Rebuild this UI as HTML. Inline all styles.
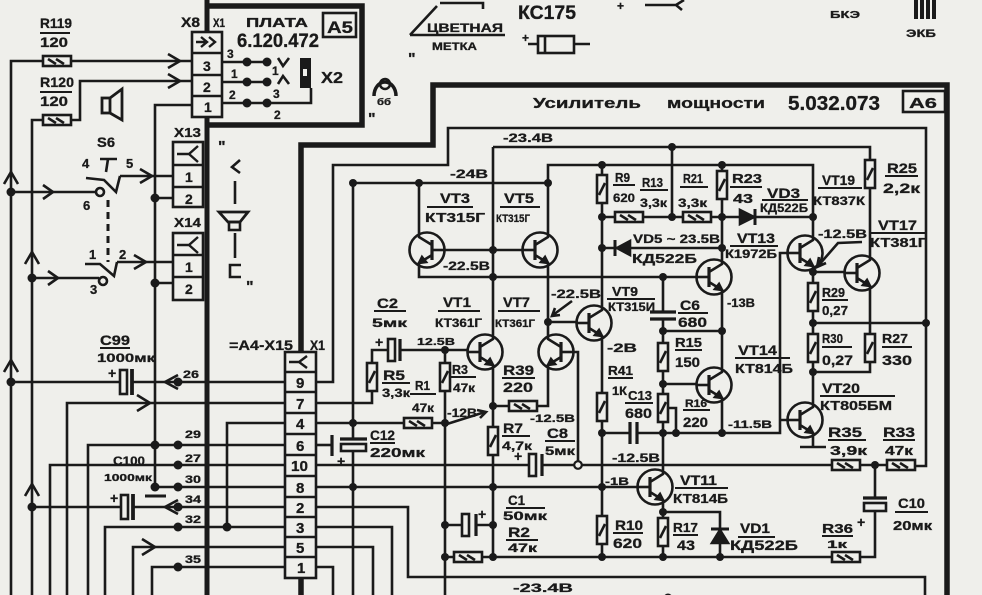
<!DOCTYPE html>
<html><head><meta charset="utf-8"><style>
html,body{margin:0;padding:0;background:#efefeb;}
svg{display:block}
.t text{font-family:"Liberation Sans","DejaVu Sans",sans-serif;font-weight:bold;fill:#1a1a1a;stroke:#1a1a1a;stroke-width:0.3px;}
</style></head><body>
<svg width="982" height="595" viewBox="0 0 982 595" xmlns="http://www.w3.org/2000/svg">
<rect width="982" height="595" fill="#efefeb"/>
<defs>
<g id="tr" fill="none">
 <circle r="17.5"/>
 <line x1="-5" y1="-10" x2="-5" y2="10" stroke-width="3.2"/>
 <line x1="-17.5" y1="0" x2="-5" y2="0"/>
 <polyline points="-5,-5 8,-13 8,-18"/>
 <polyline points="-5,5 8,13 8,18"/>
 <path d="M8,13 L1,12 L5,7 Z" fill="#1a1a1a"/>
</g>
<g id="rv"><rect x="-5" y="-14" width="10" height="28" fill="#efefeb"/><line x1="-3" y1="6" x2="3" y2="-6"/></g>
<g id="rh"><rect x="-14" y="-5" width="28" height="10" fill="#efefeb"/><line x1="-9" y1="-2" x2="-1" y2="3"/><line x1="-1" y1="-2" x2="7" y2="3"/></g>
</defs>

<!-- thick borders -->
<g stroke="#1a1a1a" fill="none" stroke-width="5.5">
 <line x1="207" y1="0" x2="207" y2="595" stroke-width="5"/>
 <path d="M207,6 H362 V125 H207"/>
 <path d="M301,595 V145 H433 V85 H947 V595"/>
</g>

<!-- wires -->
<g stroke="#1a1a1a" stroke-width="2.6" fill="none">
 <path d="M11,595 V61 H43 M71,61 H192"/>
 <path d="M32,595 V120 H43 M71,120 H80 V81 H192"/>
 <path d="M192,105 H155 V487"/>
 <path d="M11,192 H96 M32,278 H99"/>
 <path d="M120,176 H173 M155,198 H173 M117,262 H173 M155,283 H173"/>
 <path d="M222,62 H267 M222,82 H267 M222,103 H267 M311,88 V103 H267"/>
 <path d="M11,382 H120 M132,382 H285"/>
 <path d="M67,595 V403 H285"/>
 <path d="M227,527 V423 H285"/>
 <path d="M88,595 V445 H285"/>
 <path d="M50,595 V465 H285"/>
 <path d="M155,487 H285"/>
 <path d="M32,507 H121 M133,507 H285"/>
 <path d="M105,595 V527 H285"/>
 <path d="M133,595 V547 H285"/>
 <path d="M152,595 V567 H285"/>
 <path d="M316,382 H333 V165 H448 V128 H926 V466 H914"/>
 <path d="M316,403 H372 V391 M372,363 V350 H388 M400,350 H467"/>
 <path d="M316,423 H404 M432,423 H445"/>
 <path d="M316,445 H332"/>
 <path d="M316,465 H529 M542,465 H832 M860,465 H888"/>
 <path d="M316,487 H637"/>
 <path d="M316,507 H408 V577 H925 V595"/>
 <path d="M316,527 H392 V595"/>
 <path d="M316,547 H373 V595"/>
 <path d="M316,567 H333 V595"/>
 <path d="M353,183 V439 M353,451 V595 M353,183 H548"/>
 <path d="M445,350 V595"/>
 <path d="M493,147 V334 M493,370 V557 M493,147 H870 V255"/>
 <path d="M419,183 V232 M419,268 V277 H696 M444,250 H522"/>
 <path d="M548,232 V165 H813 V235 M548,268 V334 M548,322 H576 M548,370 V406 H537 M493,406 H510 M573,352 H578 V465"/>
 <path d="M602,165 V305 M602,341 V557 M602,217 H740 M755,217 H813 M602,248 H722 M722,165 V259 M722,295 V367 M722,403 V433"/>
 <path d="M602,433 H630 M637,433 H780 V253 H787 M780,420 H787"/>
 <path d="M663,277 V312 M663,319 V469 M663,505 V557 M663,331 H722 M663,384 H696 M668,408 H676 V433"/>
 <path d="M663,512 H720 V557 M443,557 H832 M860,557 H875 V512 M875,465 V498 M672,147 V217"/>
 <path d="M813,271 V402 M813,272 H844 M870,291 V372 H813 M813,323 H926 M813,438 V447 M800,447 H826"/>
 <path d="M445,525 H462 M476,525 H493"/>
</g>

<!-- components -->
<g stroke="#1a1a1a" stroke-width="2.6" fill="none">
 <use href="#tr" transform="translate(427,250) scale(-1,1)"/>
 <use href="#tr" transform="translate(540,250)"/>
 <use href="#tr" transform="translate(485,352)"/>
 <use href="#tr" transform="translate(556,352) scale(-1,1)"/>
 <use href="#tr" transform="translate(594,323)"/>
 <use href="#tr" transform="translate(714,277)"/>
 <use href="#tr" transform="translate(714,385)"/>
 <use href="#tr" transform="translate(655,487)"/>
 <use href="#tr" transform="translate(805,253)"/>
 <use href="#tr" transform="translate(862,273)"/>
 <use href="#tr" transform="translate(805,420)"/>

 <use href="#rh" x="57" y="61"/>
 <use href="#rh" x="57" y="120"/>
 <use href="#rh" x="418" y="423"/>
 <use href="#rh" x="523" y="406"/>
 <use href="#rh" x="468" y="557"/>
 <use href="#rh" x="629" y="217"/>
 <use href="#rh" x="697" y="217"/>
 <use href="#rh" x="846" y="465"/>
 <use href="#rh" x="901" y="465"/>
 <use href="#rh" x="846" y="557"/>

 <use href="#rv" x="372" y="377"/>
 <use href="#rv" x="445" y="377"/>
 <use href="#rv" x="493" y="441"/>
 <use href="#rv" x="602" y="189"/>
 <use href="#rv" x="722" y="185"/>
 <use href="#rv" x="602" y="407"/>
 <use href="#rv" x="602" y="530"/>
 <use href="#rv" x="663" y="357"/>
 <use href="#rv" x="663" y="408"/>
 <use href="#rv" x="663" y="532"/>
 <use href="#rv" x="870" y="174"/>
 <use href="#rv" x="813" y="297"/>
 <use href="#rv" x="813" y="348"/>
 <use href="#rv" x="870" y="348"/>

 <polygon points="740,210 740,224 754,217" fill="#1a1a1a"/>
 <line x1="755" y1="209" x2="755" y2="225" stroke-width="3"/>
 <polygon points="617,248 630,241 630,255" fill="#1a1a1a"/>
 <line x1="615" y1="240" x2="615" y2="256" stroke-width="3"/>
 <polygon points="712,543 728,543 720,530" fill="#1a1a1a"/>
 <line x1="711" y1="529" x2="729" y2="529" stroke-width="3"/>

 <rect x="120" y="370" width="7" height="24" fill="#efefeb"/>
 <line x1="132" y1="369" x2="132" y2="395" stroke-width="3.8"/>
 <rect x="121" y="495" width="7" height="24" fill="#efefeb"/>
 <line x1="133" y1="494" x2="133" y2="520" stroke-width="3.8"/>
 <line x1="145" y1="496" x2="166" y2="496" stroke-width="3"/>
 <rect x="388" y="339" width="7" height="22" fill="#efefeb"/>
 <line x1="400" y1="339" x2="400" y2="361" stroke-width="3.2"/>
 <line x1="332" y1="435" x2="332" y2="456" stroke-width="3.2"/>
 <line x1="340" y1="439" x2="367" y2="439" stroke-width="3.2"/>
 <rect x="341" y="444" width="25" height="7" fill="#efefeb"/>
 <rect x="529" y="454" width="7" height="22" fill="#efefeb"/>
 <line x1="542" y1="454" x2="542" y2="476" stroke-width="3.2"/>
 <rect x="462" y="514" width="7" height="22" fill="#efefeb"/>
 <line x1="476" y1="514" x2="476" y2="536" stroke-width="3.2"/>
 <line x1="650" y1="312" x2="676" y2="312" stroke-width="3.2"/>
 <line x1="650" y1="319" x2="676" y2="319" stroke-width="3.2"/>
 <line x1="630" y1="422" x2="630" y2="444" stroke-width="3.2"/>
 <line x1="637" y1="422" x2="637" y2="444" stroke-width="3.2"/>
 <line x1="863" y1="498" x2="887" y2="498" stroke-width="3.2"/>
 <rect x="864" y="503" width="22" height="8" fill="#efefeb"/>

 <polyline points="168,54 180,61 168,68"/>
 <polyline points="168,74 180,81 168,88"/>
 <polyline points="4,184 11,172 18,184"/>
 <polyline points="4,372 11,360 18,372"/>
 <polyline points="25,264 32,252 39,264"/>
 <polyline points="25,496 32,484 39,496"/>
 <polyline points="43,185 53,192 43,199"/>
 <polyline points="48,271 58,278 48,285"/>
 <polyline points="140,169 152,176 140,183"/>
 <polyline points="134,255 146,262 134,269"/>
 <polyline points="137,395 150,403 137,411"/>
 <polyline points="142,539 155,547 142,555"/>
 <polyline points="178,375 165,382 178,389"/>
 <polyline points="178,500 165,507 178,514"/>
 <path d="M447,424 L485,412 M477,410 L486,412 L480,418"/>
 <path d="M572,301 L553,315 M555,308 L552,316 L560,315"/>
 <path d="M862,242 L838,243 L818,266 M819,257 L817,267 L826,263"/>

 <circle cx="100" cy="192" r="4" fill="#efefeb"/>
 <circle cx="103" cy="281" r="4" fill="#efefeb"/>
 <path d="M86,178 L104,180 L116,192 L120,176"/>
 <path d="M100,159 H117 M108,159 L106,172"/>
 <path d="M85,264 H100 L114,276 L117,262"/>
 <line x1="108" y1="200" x2="108" y2="262" stroke-width="3" stroke-dasharray="7,5"/>
 <rect x="102" y="98" width="8" height="15" stroke-width="2.8"/>
 <path d="M110,98 L122,89 V120 L110,113" stroke-width="2.8"/>
 <polyline points="240,160 232,167 240,173"/>
 <line x1="235" y1="181" x2="235" y2="204"/>
 <path d="M219,212 H248 L240,222 H228 Z" stroke-width="2.8"/>
 <rect x="229" y="222" width="11" height="8"/>
 <line x1="235" y1="233" x2="235" y2="258"/>
 <polyline points="241,265 230,265 230,277 241,277"/>
 <path d="M374,96 A11,14 0 0 1 396,96" stroke-width="3.5"/>
 <circle cx="385" cy="84" r="5" stroke-width="2.5"/>
 <path d="M410,35 L437,6 M440,3 H483 V9 M410,35 H505"/>
 <rect x="538" y="36" width="36" height="17"/>
 <line x1="545" y1="36" x2="545" y2="53"/>
 <path d="M528,44 H538 M574,44 H590"/>
 <path d="M645,5 H676 L684,0 M676,5 L682,10"/>
 <polyline points="278,58 283,66 289,58"/>
 <polyline points="278,84 283,76 289,84"/>
</g>

<g fill="#1a1a1a">
 <rect x="914" y="0" width="4" height="19"/>
 <rect x="920" y="0" width="4" height="19"/>
 <rect x="926" y="0" width="4" height="19"/>
 <rect x="932" y="0" width="4" height="19"/>
 <rect x="300" y="58" width="11" height="30"/>
</g>
<rect x="303" y="69" width="4" height="7" fill="#efefeb"/>

<g stroke="#1a1a1a" stroke-width="2.6" fill="#efefeb">
 <rect x="192" y="32" width="30" height="85"/>
 <path d="M192,53 H222 M192,75 H222 M192,96 H222" fill="none"/>
 <rect x="173" y="142" width="30" height="65"/>
 <path d="M173,165 H203 M173,187 H203" fill="none"/>
 <rect x="173" y="233" width="30" height="67"/>
 <path d="M173,255 H203 M173,277 H203" fill="none"/>
 <rect x="285" y="352" width="31" height="226"/>
 <path d="M285,372 H316 M285,392 H316 M285,413 H316 M285,434 H316 M285,455 H316 M285,476 H316 M285,497 H316 M285,517 H316 M285,537 H316 M285,557 H316" fill="none"/>
 <rect x="323" y="13" width="33" height="24" fill="none"/>
 <rect x="903" y="91" width="42" height="21" fill="none"/>
</g>
<g stroke="#1a1a1a" stroke-width="2.4" fill="none">
 <path d="M196,42 H205 M201,37 L207,42 L201,47 M209,37 L215,42 L209,47"/>
 <path d="M177,154 H189 M198,146 L189,154 L198,162"/>
 <path d="M177,245 H189 M198,237 L189,245 L198,253"/>
 <path d="M289,362 H299 M307,356 L299,362 L307,368"/>
</g>

<g fill="#1a1a1a">
 <circle cx="11" cy="192" r="4.5"/><circle cx="32" cy="278" r="4.5"/>
 <circle cx="155" cy="198" r="4.5"/><circle cx="155" cy="283" r="4.5"/>
 <circle cx="247" cy="62" r="4.5"/><circle cx="267" cy="62" r="4.5"/>
 <circle cx="247" cy="82" r="4.5"/><circle cx="267" cy="82" r="4.5"/>
 <circle cx="247" cy="103" r="4.5"/><circle cx="267" cy="103" r="4.5"/>
 <circle cx="11" cy="382" r="4.5"/><circle cx="178" cy="382" r="4.5"/>
 <circle cx="155" cy="445" r="4.5"/><circle cx="178" cy="445" r="4.5"/>
 <circle cx="178" cy="465" r="4.5"/><circle cx="155" cy="487" r="4.5"/>
 <circle cx="178" cy="487" r="4.5"/><circle cx="32" cy="507" r="4.5"/>
 <circle cx="178" cy="507" r="4.5"/><circle cx="178" cy="527" r="4.5"/>
 <circle cx="227" cy="527" r="4.5"/><circle cx="178" cy="567" r="4.5"/>
 <circle cx="353" cy="183" r="4"/><circle cx="419" cy="183" r="4"/>
 <circle cx="548" cy="183" r="4"/><circle cx="493" cy="250" r="4"/>
 <circle cx="493" cy="277" r="4"/><circle cx="353" cy="423" r="4"/>
 <circle cx="353" cy="487" r="4"/><circle cx="445" cy="350" r="4"/>
 <circle cx="445" cy="423" r="4"/><circle cx="445" cy="525" r="4"/>
 <circle cx="445" cy="557" r="4"/><circle cx="493" cy="406" r="4"/>
 <circle cx="493" cy="487" r="4"/><circle cx="493" cy="525" r="4"/>
 <circle cx="493" cy="557" r="4"/><circle cx="548" cy="322" r="4"/>
 <circle cx="602" cy="165" r="4"/><circle cx="602" cy="217" r="4"/>
 <circle cx="672" cy="147" r="4"/><circle cx="672" cy="217" r="4"/>
 <circle cx="722" cy="165" r="4"/><circle cx="722" cy="217" r="4"/>
 <circle cx="813" cy="217" r="4"/><circle cx="602" cy="248" r="4"/>
 <circle cx="722" cy="248" r="4"/><circle cx="663" cy="277" r="4"/>
 <circle cx="663" cy="331" r="4"/><circle cx="722" cy="331" r="4"/>
 <circle cx="663" cy="384" r="4"/><circle cx="663" cy="433" r="4"/>
 <circle cx="676" cy="433" r="4"/><circle cx="602" cy="433" r="4"/>
 <circle cx="722" cy="433" r="4"/><circle cx="602" cy="487" r="4"/>
 <circle cx="663" cy="512" r="4"/><circle cx="602" cy="557" r="4"/>
 <circle cx="663" cy="557" r="4"/><circle cx="720" cy="557" r="4"/>
 <circle cx="813" cy="272" r="4"/><circle cx="813" cy="323" r="4"/>
 <circle cx="926" cy="323" r="4"/><circle cx="813" cy="372" r="4"/>
 <circle cx="875" cy="465" r="4"/><circle cx="668" cy="598" r="4.5"/>
</g>
<circle cx="578" cy="465" r="3.8" fill="#efefeb" stroke="#1a1a1a" stroke-width="2.2"/>

<g stroke="#1a1a1a" stroke-width="2">
 <path d="M40,33 H70 M40,92 H72 M100,348 H130"/>
 <path d="M427,207 H473 M500,207 H540 M438,311 H480 M498,311 H540 M374,311 H406"/>
 <path d="M382,383 H410 M410,394 H436 M451,377 H476 M502,378 H535 M502,436 H530 M545,441 H575"/>
 <path d="M506,508 H545 M506,540 H538 M607,299 H655 M613,185 H635 M640,190 H668 M680,187 H708 M730,187 H762 M762,200 H808"/>
 <path d="M730,246 H778 M678,313 H708 M608,378 H633 M625,403 H653 M675,350 H702 M683,410 H710"/>
 <path d="M735,358 H790 M675,488 H728 M613,533 H643 M673,535 H698 M738,537 H775"/>
 <path d="M828,440 H866 M883,440 H915 M895,512 H928 M822,536 H853 M822,347 H852 M882,347 H912"/>
 <path d="M820,396 H895 M822,300 H848 M818,188 H862 M885,176 H918 M870,233 H925 M370,443 H395"/>
</g>

<g class="t">
 <text x="40" y="28" font-size="14" textLength="32" lengthAdjust="spacingAndGlyphs">R119</text>
 <text x="40" y="47" font-size="14" textLength="28" lengthAdjust="spacingAndGlyphs">120</text>
 <text x="40" y="87" font-size="14" textLength="34" lengthAdjust="spacingAndGlyphs">R120</text>
 <text x="40" y="106" font-size="14" textLength="28" lengthAdjust="spacingAndGlyphs">120</text>
 <text x="97" y="147" font-size="14" textLength="18" lengthAdjust="spacingAndGlyphs">S6</text>
 <text x="82" y="168" font-size="13">4</text>
 <text x="126" y="168" font-size="13">5</text>
 <text x="83" y="210" font-size="13">6</text>
 <text x="89" y="259" font-size="13">1</text>
 <text x="119" y="259" font-size="13">2</text>
 <text x="90" y="294" font-size="13">3</text>
 <text x="174" y="137" font-size="13" textLength="27" lengthAdjust="spacingAndGlyphs">X13</text>
 <text x="174" y="227" font-size="13" textLength="27" lengthAdjust="spacingAndGlyphs">X14</text>
 <text x="185" y="182" font-size="14">1</text>
 <text x="185" y="204" font-size="14">2</text>
 <text x="185" y="272" font-size="14">1</text>
 <text x="185" y="294" font-size="14">2</text>
 <text x="181" y="27" font-size="14" textLength="19" lengthAdjust="spacingAndGlyphs">X8</text>
 <text x="213" y="27" font-size="12" textLength="12" lengthAdjust="spacingAndGlyphs">X1</text>
 <text x="246" y="27" font-size="13" textLength="62" lengthAdjust="spacingAndGlyphs">ПЛАТА</text>
 <text x="237" y="47" font-size="19" textLength="82" lengthAdjust="spacingAndGlyphs">6.120.472</text>
 <text x="327" y="33" font-size="17" textLength="26" lengthAdjust="spacingAndGlyphs">A5</text>
 <text x="203" y="71" font-size="14">3</text>
 <text x="203" y="92" font-size="14">2</text>
 <text x="204" y="112" font-size="14">1</text>
 <text x="227" y="58" font-size="12">3</text>
 <text x="231" y="78" font-size="12">1</text>
 <text x="229" y="99" font-size="12">2</text>
 <text x="272" y="75" font-size="12">1</text>
 <text x="273" y="98" font-size="12">3</text>
 <text x="274" y="119" font-size="12">2</text>
 <text x="321" y="83" font-size="16" textLength="22" lengthAdjust="spacingAndGlyphs">X2</text>
 <text x="218" y="152" font-size="16">"</text>
 <text x="246" y="292" font-size="16">"</text>
 <text x="408" y="64" font-size="16">"</text>
 <text x="368" y="124" font-size="16">"</text>
 <text x="377" y="105" font-size="9" textLength="14" lengthAdjust="spacingAndGlyphs">бб</text>

 <text x="427" y="32" font-size="12" textLength="76" lengthAdjust="spacingAndGlyphs">ЦВЕТНАЯ</text>
 <text x="432" y="50" font-size="11" textLength="45" lengthAdjust="spacingAndGlyphs">МЕТКА</text>
 <text x="518" y="19" font-size="19" font-weight="normal" textLength="58" lengthAdjust="spacingAndGlyphs">КС175</text>
 <text x="522" y="42" font-size="12">+</text>
 <text x="617" y="10" font-size="12">+</text>
 <text x="830" y="18" font-size="10" textLength="30" lengthAdjust="spacingAndGlyphs">БКЭ</text>
 <text x="906" y="37" font-size="11" textLength="30" lengthAdjust="spacingAndGlyphs">ЭКБ</text>
 <text x="533" y="108" font-size="15" textLength="108" lengthAdjust="spacingAndGlyphs">Усилитель</text>
 <text x="667" y="108" font-size="15" textLength="98" lengthAdjust="spacingAndGlyphs">мощности</text>
 <text x="788" y="110" font-size="20" textLength="92" lengthAdjust="spacingAndGlyphs">5.032.073</text>
 <text x="909" y="108" font-size="15" textLength="28" lengthAdjust="spacingAndGlyphs">A6</text>

 <text x="100" y="345" font-size="14" textLength="30" lengthAdjust="spacingAndGlyphs">C99</text>
 <text x="97" y="362" font-size="12" textLength="58" lengthAdjust="spacingAndGlyphs">1000мк</text>
 <text x="183" y="378" font-size="11" textLength="16" lengthAdjust="spacingAndGlyphs">26</text>
 <text x="185" y="438" font-size="11" textLength="16" lengthAdjust="spacingAndGlyphs">29</text>
 <text x="185" y="462" font-size="11" textLength="16" lengthAdjust="spacingAndGlyphs">27</text>
 <text x="185" y="483" font-size="11" textLength="16" lengthAdjust="spacingAndGlyphs">30</text>
 <text x="185" y="503" font-size="11" textLength="16" lengthAdjust="spacingAndGlyphs">34</text>
 <text x="185" y="523" font-size="11" textLength="16" lengthAdjust="spacingAndGlyphs">32</text>
 <text x="185" y="563" font-size="11" textLength="16" lengthAdjust="spacingAndGlyphs">35</text>
 <text x="113" y="465" font-size="12" textLength="32" lengthAdjust="spacingAndGlyphs">C100</text>
 <text x="104" y="481" font-size="10" textLength="48" lengthAdjust="spacingAndGlyphs">1000мк</text>
 <text x="108" y="378" font-size="14">+</text>
 <text x="110" y="503" font-size="14">+</text>
 <text x="229" y="350" font-size="14" textLength="64" lengthAdjust="spacingAndGlyphs">=A4-X15</text>
 <text x="310" y="350" font-size="14" textLength="15" lengthAdjust="spacingAndGlyphs">X1</text>
 <text x="296" y="388" font-size="15">9</text>
 <text x="296" y="409" font-size="15">7</text>
 <text x="296" y="429" font-size="15">4</text>
 <text x="296" y="451" font-size="15">6</text>
 <text x="291" y="471" font-size="15" textLength="17" lengthAdjust="spacingAndGlyphs">10</text>
 <text x="296" y="493" font-size="15">8</text>
 <text x="296" y="513" font-size="15">2</text>
 <text x="296" y="533" font-size="15">3</text>
 <text x="296" y="553" font-size="15">5</text>
 <text x="297" y="573" font-size="15">1</text>

 <text x="503" y="142" font-size="12" textLength="50" lengthAdjust="spacingAndGlyphs">-23.4В</text>
 <text x="450" y="178" font-size="12" textLength="38" lengthAdjust="spacingAndGlyphs">-24В</text>
 <text x="440" y="203" font-size="14" textLength="30" lengthAdjust="spacingAndGlyphs">VT3</text>
 <text x="425" y="222" font-size="13" textLength="60" lengthAdjust="spacingAndGlyphs">КТ315Г</text>
 <text x="504" y="203" font-size="14" textLength="30" lengthAdjust="spacingAndGlyphs">VT5</text>
 <text x="496" y="222" font-size="11" textLength="34" lengthAdjust="spacingAndGlyphs">КТ315Г</text>
 <text x="443" y="270" font-size="12" textLength="47" lengthAdjust="spacingAndGlyphs">-22.5В</text>
 <text x="443" y="307" font-size="14" textLength="28" lengthAdjust="spacingAndGlyphs">VT1</text>
 <text x="435" y="327" font-size="12" textLength="47" lengthAdjust="spacingAndGlyphs">КТ361Г</text>
 <text x="503" y="307" font-size="14" textLength="27" lengthAdjust="spacingAndGlyphs">VT7</text>
 <text x="495" y="327" font-size="11" textLength="40" lengthAdjust="spacingAndGlyphs">КТ361Г</text>
 <text x="377" y="308" font-size="14" textLength="21" lengthAdjust="spacingAndGlyphs">C2</text>
 <text x="372" y="327" font-size="12" textLength="35" lengthAdjust="spacingAndGlyphs">5мк</text>
 <text x="375" y="347" font-size="14">+</text>
 <text x="417" y="345" font-size="10" textLength="38" lengthAdjust="spacingAndGlyphs">12.5В</text>
 <text x="383" y="380" font-size="14" textLength="22" lengthAdjust="spacingAndGlyphs">R5</text>
 <text x="382" y="397" font-size="12" textLength="28" lengthAdjust="spacingAndGlyphs">3,3к</text>
 <text x="415" y="390" font-size="13" textLength="15" lengthAdjust="spacingAndGlyphs">R1</text>
 <text x="412" y="412" font-size="12" textLength="22" lengthAdjust="spacingAndGlyphs">47к</text>
 <text x="452" y="374" font-size="13" textLength="16" lengthAdjust="spacingAndGlyphs">R3</text>
 <text x="453" y="392" font-size="12" textLength="22" lengthAdjust="spacingAndGlyphs">47к</text>
 <text x="447" y="417" font-size="12" textLength="30" lengthAdjust="spacingAndGlyphs">-12В</text>
 <text x="503" y="375" font-size="14" textLength="31" lengthAdjust="spacingAndGlyphs">R39</text>
 <text x="503" y="392" font-size="14" textLength="30" lengthAdjust="spacingAndGlyphs">220</text>
 <text x="503" y="433" font-size="14" textLength="20" lengthAdjust="spacingAndGlyphs">R7</text>
 <text x="502" y="450" font-size="12" textLength="30" lengthAdjust="spacingAndGlyphs">4,7к</text>
 <text x="530" y="422" font-size="11" textLength="45" lengthAdjust="spacingAndGlyphs">-12.5В</text>
 <text x="547" y="438" font-size="14" textLength="21" lengthAdjust="spacingAndGlyphs">C8</text>
 <text x="545" y="455" font-size="12" textLength="30" lengthAdjust="spacingAndGlyphs">5мк</text>
 <text x="514" y="461" font-size="14">+</text>
 <text x="337" y="466" font-size="14">+</text>
 <text x="370" y="440" font-size="14" textLength="25" lengthAdjust="spacingAndGlyphs">C12</text>
 <text x="370" y="457" font-size="13" textLength="55" lengthAdjust="spacingAndGlyphs">220мк</text>
 <text x="508" y="505" font-size="14" textLength="17" lengthAdjust="spacingAndGlyphs">C1</text>
 <text x="503" y="520" font-size="12" textLength="44" lengthAdjust="spacingAndGlyphs">50мк</text>
 <text x="478" y="519" font-size="14">+</text>
 <text x="508" y="537" font-size="14" textLength="22" lengthAdjust="spacingAndGlyphs">R2</text>
 <text x="508" y="552" font-size="12" textLength="29" lengthAdjust="spacingAndGlyphs">47к</text>
 <text x="513" y="592" font-size="12" textLength="60" lengthAdjust="spacingAndGlyphs">-23.4В</text>
 <text x="551" y="298" font-size="12" textLength="50" lengthAdjust="spacingAndGlyphs">-22.5В</text>
 <text x="612" y="296" font-size="13" textLength="26" lengthAdjust="spacingAndGlyphs">VT9</text>
 <text x="608" y="311" font-size="12" textLength="47" lengthAdjust="spacingAndGlyphs">КТ315И</text>
 <text x="615" y="182" font-size="13" textLength="15" lengthAdjust="spacingAndGlyphs">R9</text>
 <text x="613" y="202" font-size="12" textLength="22" lengthAdjust="spacingAndGlyphs">620</text>
 <text x="642" y="187" font-size="13" textLength="21" lengthAdjust="spacingAndGlyphs">R13</text>
 <text x="640" y="207" font-size="12" textLength="27" lengthAdjust="spacingAndGlyphs">3,3к</text>
 <text x="683" y="183" font-size="13" textLength="20" lengthAdjust="spacingAndGlyphs">R21</text>
 <text x="678" y="207" font-size="12" textLength="29" lengthAdjust="spacingAndGlyphs">3,3к</text>
 <text x="732" y="183" font-size="13" textLength="30" lengthAdjust="spacingAndGlyphs">R23</text>
 <text x="733" y="203" font-size="13" textLength="20" lengthAdjust="spacingAndGlyphs">43</text>
 <text x="767" y="198" font-size="14" textLength="33" lengthAdjust="spacingAndGlyphs">VD3</text>
 <text x="760" y="212" font-size="12" textLength="48" lengthAdjust="spacingAndGlyphs">КД522Б</text>
 <text x="633" y="243" font-size="12" textLength="87" lengthAdjust="spacingAndGlyphs">VD5 ~ 23.5В</text>
 <text x="632" y="263" font-size="13" textLength="65" lengthAdjust="spacingAndGlyphs">КД522Б</text>
 <text x="737" y="243" font-size="14" textLength="38" lengthAdjust="spacingAndGlyphs">VT13</text>
 <text x="725" y="258" font-size="12" textLength="52" lengthAdjust="spacingAndGlyphs">К1972Б</text>
 <text x="727" y="307" font-size="12" textLength="28" lengthAdjust="spacingAndGlyphs">-13В</text>
 <text x="680" y="310" font-size="14" textLength="20" lengthAdjust="spacingAndGlyphs">C6</text>
 <text x="678" y="327" font-size="14" textLength="29" lengthAdjust="spacingAndGlyphs">680</text>
 <text x="607" y="352" font-size="12" textLength="30" lengthAdjust="spacingAndGlyphs">-2В</text>
 <text x="608" y="375" font-size="13" textLength="25" lengthAdjust="spacingAndGlyphs">R41</text>
 <text x="612" y="395" font-size="12" textLength="15" lengthAdjust="spacingAndGlyphs">1К</text>
 <text x="628" y="400" font-size="13" textLength="24" lengthAdjust="spacingAndGlyphs">C13</text>
 <text x="625" y="418" font-size="14" textLength="27" lengthAdjust="spacingAndGlyphs">680</text>
 <text x="675" y="347" font-size="13" textLength="27" lengthAdjust="spacingAndGlyphs">R15</text>
 <text x="675" y="367" font-size="14" textLength="25" lengthAdjust="spacingAndGlyphs">150</text>
 <text x="685" y="407" font-size="11" textLength="22" lengthAdjust="spacingAndGlyphs">R16</text>
 <text x="683" y="427" font-size="14" textLength="25" lengthAdjust="spacingAndGlyphs">220</text>
 <text x="738" y="355" font-size="14" textLength="39" lengthAdjust="spacingAndGlyphs">VT14</text>
 <text x="735" y="373" font-size="13" textLength="58" lengthAdjust="spacingAndGlyphs">КТ814Б</text>
 <text x="728" y="428" font-size="11" textLength="44" lengthAdjust="spacingAndGlyphs">-11.5В</text>
 <text x="612" y="462" font-size="12" textLength="48" lengthAdjust="spacingAndGlyphs">-12.5В</text>
 <text x="605" y="485" font-size="11" textLength="24" lengthAdjust="spacingAndGlyphs">-1В</text>
 <text x="680" y="485" font-size="14" textLength="37" lengthAdjust="spacingAndGlyphs">VT11</text>
 <text x="673" y="503" font-size="13" textLength="55" lengthAdjust="spacingAndGlyphs">КТ814Б</text>
 <text x="615" y="530" font-size="14" textLength="28" lengthAdjust="spacingAndGlyphs">R10</text>
 <text x="613" y="548" font-size="14" textLength="29" lengthAdjust="spacingAndGlyphs">620</text>
 <text x="673" y="532" font-size="13" textLength="25" lengthAdjust="spacingAndGlyphs">R17</text>
 <text x="677" y="550" font-size="14" textLength="18" lengthAdjust="spacingAndGlyphs">43</text>
 <text x="740" y="533" font-size="14" textLength="30" lengthAdjust="spacingAndGlyphs">VD1</text>
 <text x="730" y="550" font-size="14" textLength="68" lengthAdjust="spacingAndGlyphs">КД522Б</text>
 <text x="828" y="437" font-size="14" textLength="34" lengthAdjust="spacingAndGlyphs">R35</text>
 <text x="830" y="455" font-size="13" textLength="37" lengthAdjust="spacingAndGlyphs">3,9к</text>
 <text x="883" y="437" font-size="14" textLength="32" lengthAdjust="spacingAndGlyphs">R33</text>
 <text x="885" y="455" font-size="13" textLength="28" lengthAdjust="spacingAndGlyphs">47к</text>
 <text x="898" y="508" font-size="14" textLength="27" lengthAdjust="spacingAndGlyphs">C10</text>
 <text x="893" y="530" font-size="13" textLength="39" lengthAdjust="spacingAndGlyphs">20мк</text>
 <text x="822" y="533" font-size="13" textLength="31" lengthAdjust="spacingAndGlyphs">R36</text>
 <text x="827" y="548" font-size="11" textLength="20" lengthAdjust="spacingAndGlyphs">1к</text>
 <text x="857" y="527" font-size="14">+</text>
 <text x="822" y="343" font-size="13" textLength="21" lengthAdjust="spacingAndGlyphs">R30</text>
 <text x="822" y="365" font-size="14" textLength="31" lengthAdjust="spacingAndGlyphs">0,27</text>
 <text x="882" y="343" font-size="13" textLength="26" lengthAdjust="spacingAndGlyphs">R27</text>
 <text x="882" y="365" font-size="14" textLength="30" lengthAdjust="spacingAndGlyphs">330</text>
 <text x="822" y="393" font-size="14" textLength="38" lengthAdjust="spacingAndGlyphs">VT20</text>
 <text x="820" y="410" font-size="13" textLength="72" lengthAdjust="spacingAndGlyphs">КТ805БМ</text>
 <text x="822" y="297" font-size="13" textLength="23" lengthAdjust="spacingAndGlyphs">R29</text>
 <text x="822" y="315" font-size="13" textLength="26" lengthAdjust="spacingAndGlyphs">0,27</text>
 <text x="822" y="185" font-size="14" textLength="33" lengthAdjust="spacingAndGlyphs">VT19</text>
 <text x="813" y="205" font-size="12" textLength="52" lengthAdjust="spacingAndGlyphs">КТ837К</text>
 <text x="887" y="173" font-size="14" textLength="30" lengthAdjust="spacingAndGlyphs">R25</text>
 <text x="883" y="193" font-size="14" textLength="37" lengthAdjust="spacingAndGlyphs">2,2к</text>
 <text x="878" y="230" font-size="14" textLength="39" lengthAdjust="spacingAndGlyphs">VT17</text>
 <text x="870" y="247" font-size="13" textLength="57" lengthAdjust="spacingAndGlyphs">КТ381Г</text>
 <text x="818" y="238" font-size="12" textLength="49" lengthAdjust="spacingAndGlyphs">-12.5В</text>
</g>
</svg>
</body></html>
